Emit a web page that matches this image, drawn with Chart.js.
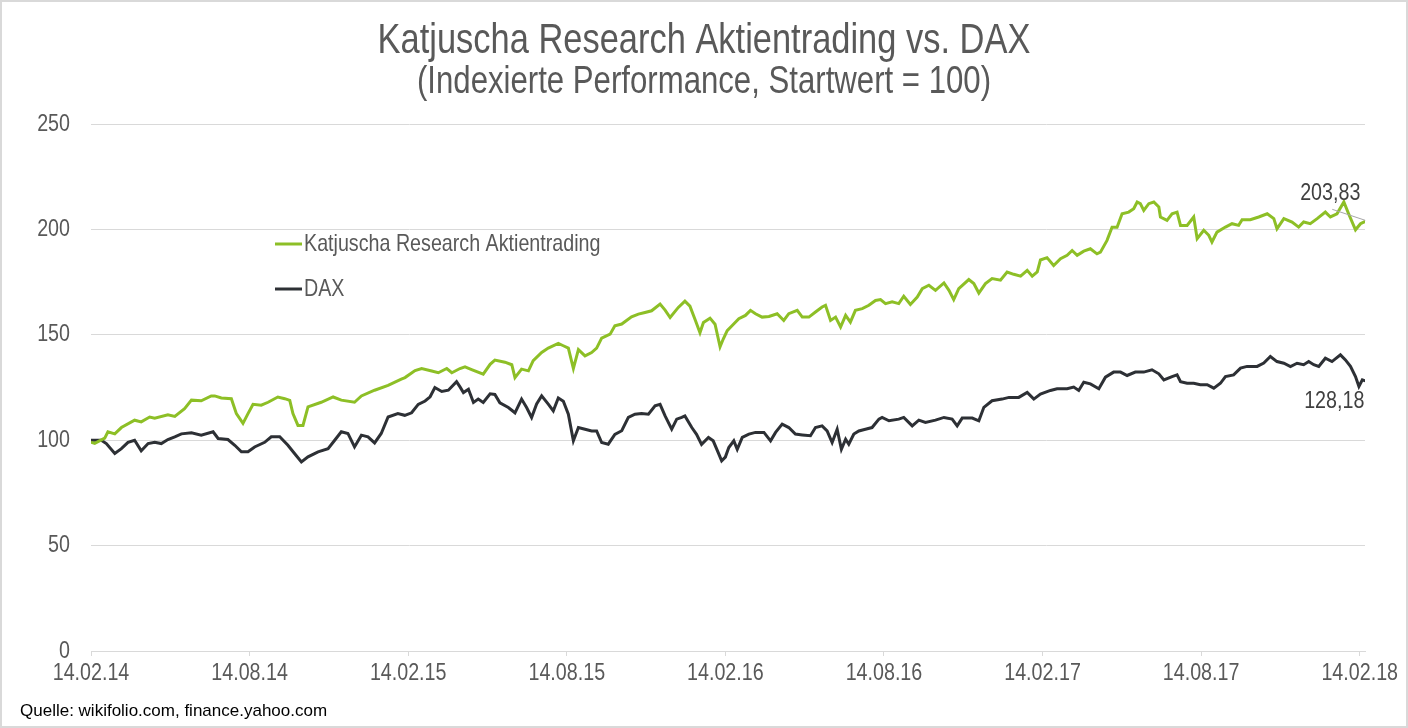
<!DOCTYPE html>
<html>
<head>
<meta charset="utf-8">
<script src="https://cdn.jsdelivr.net/npm/chart.js@4.4.1/dist/chart.umd.min.js"></script>
<style>
  html, body { margin: 0; padding: 0; background: #fff; }
  #wrap { position: relative; width: 1408px; height: 728px; }
</style>
</head>
<body>
<div id="wrap"><canvas id="perfChart" width="1408" height="728"></canvas></div>
<script>
// x = months since 14.02.14, y = indexed value (start = 100)
var dateTicks = ['14.02.14','14.08.14','14.02.15','14.08.15','14.02.16','14.08.16','14.02.17','14.08.17','14.02.18'];

var katjuscha = [[0,99],[0.14,98.5],[0.52,101],[0.64,104],[0.90,103],[1.15,106],[1.65,109.5],[1.90,108.7],[2.22,111],[2.41,110.4],
  [2.91,112],[3.17,111.3],[3.54,115],[3.80,119],[4.17,118.7],[4.55,121],[4.68,121],[4.93,120],[5.31,119.7],[5.50,112.6],
  [5.75,108],[5.94,112.6],[6.13,117],[6.44,116.6],[6.70,118],[7.07,120.5],[7.33,119.7],[7.52,118.9],[7.64,112.6],[7.83,107],
  [8.02,107],[8.21,115.8],[8.71,118],[9.16,120.5],[9.47,119],[9.97,118],[10.23,121],[10.73,123.7],[11.24,126],[11.74,129],
  [11.88,129.7],[12.26,133],[12.51,134],[12.89,132.8],[13.14,132],[13.46,134],[13.65,132],[13.96,134],[14.15,134.8],[14.40,133.5],
  [14.84,131.3],[15.10,136],[15.28,138],[15.66,137],[15.92,135.8],[16.04,129.7],[16.29,133.7],[16.55,132.9],[16.73,137.7],[17.05,141.6],
  [17.30,143.7],[17.68,145.9],[17.87,144.8],[18.06,143.7],[18.25,134],[18.44,143],[18.69,140],[18.94,141.6],[19.13,143.7],[19.32,148.4],
  [19.64,150.3],[19.82,154.3],[20.08,155.1],[20.45,158.5],[20.71,159.8],[20.96,160.6],[21.21,161.4],[21.53,164.6],[21.72,161.7],[21.91,158.2],
  [22.22,163],[22.47,166],[22.66,163.6],[22.85,157.4],[23.04,151],[23.17,155.8],[23.42,157.9],[23.61,155],[23.80,144.3],[23.92,148],
  [24.07,152],[24.26,154.4],[24.51,157.6],[24.76,159.2],[24.95,161.6],[25.14,160],[25.39,158.4],[25.65,158.7],[25.96,160],[26.21,156.8],
  [26.40,160],[26.72,161.6],[26.91,158.4],[27.16,158.4],[27.41,160.8],[27.66,163.2],[27.79,164],[27.98,156.8],[28.17,158.4],[28.36,153.7],
  [28.55,159.2],[28.73,156],[28.92,161.6],[29.18,162.4],[29.43,164],[29.68,166.3],[29.87,166.7],[30.06,164.8],[30.31,165.6],[30.56,164.8],
  [30.75,168.3],[31.00,164.4],[31.26,167.9],[31.45,171.9],[31.70,173.5],[31.95,171.1],[32.27,174.6],[32.46,171.1],[32.64,166.7],[32.83,171.9],
  [33.21,176.2],[33.40,174.3],[33.59,169.8],[33.84,174.3],[34.09,176.7],[34.41,175.9],[34.66,179.8],[34.91,178.7],[35.17,177.8],[35.42,180.6],
  [35.61,177.8],[35.80,179.8],[35.92,185.5],[36.17,186.6],[36.42,182.9],[36.68,186.1],[36.93,187.7],[37.12,190],[37.31,187.7],[37.56,189.7],
  [37.81,190.8],[38.06,188.4],[38.19,189.2],[38.44,194.8],[38.63,201],[38.82,201],[39.01,207.4],[39.26,208.2],[39.45,209.8],[39.58,213],
  [39.70,212.2],[39.83,209],[40.02,212.2],[40.21,213],[40.40,210.6],[40.46,205.9],[40.71,204.3],[40.90,207.4],[41.09,208.2],[41.22,201.9],
  [41.47,201.9],[41.72,205.9],[41.85,195.6],[42.10,199.6],[42.29,197.2],[42.41,194],[42.60,198.7],[42.92,201.1],[43.17,202.7],[43.42,201.9],
  [43.55,204.6],[43.86,204.6],[44.18,205.9],[44.50,207.4],[44.75,205.1],[44.87,200.3],[45.13,205.1],[45.44,203.5],[45.69,201.1],[45.88,203.5],
  [46.13,202.7],[46.39,205.1],[46.70,208.2],[46.89,205.9],[47.14,207.4],[47.40,213],[47.58,207.4],[47.84,199.8],[48.03,202.7],[48.21,203.83]];

var dax = [[0,100],[0.39,100],[0.58,98.4],[0.90,93.7],[1.15,96],[1.40,99],[1.65,100],[1.90,95],[2.16,98.4],[2.41,99],
  [2.66,98.4],[2.91,100.3],[3.17,101.6],[3.42,103],[3.80,103.5],[4.17,102.4],[4.62,104],[4.81,100.8],[5.18,100.3],[5.44,97.6],
  [5.69,94.5],[5.94,94.5],[6.19,96.8],[6.57,99],[6.82,101.6],[7.14,101.6],[7.45,97.6],[7.70,93.7],[7.96,89.7],[8.21,92.1],
  [8.59,94.5],[8.97,96],[9.22,100],[9.47,104],[9.72,103.2],[9.97,96.8],[10.23,102.4],[10.48,101.6],[10.73,98.7],[10.98,103.2],
  [11.24,111],[11.61,112.6],[11.87,111.8],[12.13,113],[12.38,117],[12.64,118.6],[12.83,120.6],[13.01,125],[13.27,123.1],[13.52,123.7],
  [13.83,127.8],[13.96,125.3],[14.09,122.6],[14.28,124.2],[14.47,117.9],[14.65,119.5],[14.84,117.9],[15.10,122],[15.28,121.7],[15.47,117.7],
  [15.79,115.5],[16.04,113],[16.29,119.5],[16.48,115.5],[16.67,110.8],[16.86,117.2],[17.05,121],[17.30,117.1],[17.49,113.9],[17.68,120],
  [17.87,118.5],[18.06,112.3],[18.25,99.7],[18.44,106],[18.69,105.2],[18.94,104.4],[19.13,104.4],[19.32,98.9],[19.57,98.1],[19.82,102.8],
  [20.08,104.5],[20.33,110.8],[20.58,112.3],[20.83,112.7],[21.09,112.3],[21.34,116.3],[21.53,117],[21.72,111.5],[21.97,105.2],[22.16,110],
  [22.35,110.8],[22.47,111.5],[22.73,106],[22.91,102.8],[23.10,98],[23.36,101.3],[23.54,99.7],[23.73,94.1],[23.86,90.2],[24.00,92],
  [24.13,96.5],[24.32,99.7],[24.45,95.7],[24.64,101.3],[24.89,102.9],[25.14,103.7],[25.46,103.7],[25.71,99.7],[25.90,103.7],[26.15,107.6],
  [26.40,106],[26.65,102.9],[26.91,102.5],[27.22,102.1],[27.41,106],[27.66,106.8],[27.85,104.4],[28.04,98.9],[28.23,105.2],[28.39,95.7],
  [28.55,100.5],[28.67,98.1],[28.86,102.9],[29.05,104.4],[29.30,105.2],[29.55,106],[29.81,110],[29.93,110.8],[30.19,109.2],[30.56,110],
  [30.75,110.8],[31.07,106.8],[31.32,109.5],[31.57,108.4],[31.95,109.5],[32.27,110.8],[32.58,110],[32.77,106.8],[32.96,110.5],[33.34,110.5],
  [33.59,109.2],[33.78,115.6],[34.09,118.7],[34.47,119.5],[34.73,120.3],[35.10,120.3],[35.42,122.7],[35.67,119.5],[35.92,121.9],[36.30,123.6],
  [36.55,124.4],[36.93,124.4],[37.18,125.2],[37.37,123.6],[37.56,127.5],[37.81,126.7],[38.13,124.4],[38.38,129.9],[38.69,132.3],[38.95,132.3],
  [39.20,130.7],[39.51,132.3],[39.83,132.3],[40.14,133.4],[40.40,131.5],[40.59,128.6],[40.90,130.2],[41.09,131],[41.22,127.8],[41.47,127],
  [41.72,127],[41.97,126.3],[42.23,126.3],[42.48,124.7],[42.73,127],[42.92,130.2],[43.23,131],[43.49,134.2],[43.74,135],[44.12,135],
  [44.37,136.6],[44.62,139.7],[44.87,137.3],[45.13,136.5],[45.38,134.9],[45.63,136.5],[45.88,135.8],[46.07,137.3],[46.26,135.8],[46.45,135],
  [46.70,138.9],[46.95,137.3],[47.27,140.5],[47.46,138.1],[47.65,135],[47.84,130.2],[47.97,125.5],[48.10,128.6],[48.21,128.18]];

var endLabels = ['203,83', '128,18'];

var textGrey = '#595959';

function toPoints(arr) {
  return arr.map(function (p) { return { x: p[0], y: p[1] }; });
}

// Arial Narrow is not installed: squeeze Liberation Sans horizontally instead
function narrowText(ctx, text, x, y, size, align, color) {
  ctx.save();
  ctx.translate(x, y);
  ctx.scale(0.82, 1);
  ctx.font = size + 'px "Liberation Sans", Arial, sans-serif';
  ctx.fillStyle = color;
  ctx.textAlign = align;
  ctx.textBaseline = 'middle';
  ctx.fillText(text, 0, 0);
  ctx.restore();
}

var extras = {
  id: 'extras',
  afterDraw: function (chart) {
    var ctx = chart.ctx;
    ctx.save();
    ctx.strokeStyle = '#d9d9d9';
    ctx.lineWidth = 2;
    ctx.strokeRect(1, 1, chart.width - 2, chart.height - 2);
    ctx.restore();

    narrowText(ctx, 'Katjuscha Research Aktientrading vs. DAX', 704, 41, 42, 'center', textGrey);
    narrowText(ctx, '(Indexierte Performance, Startwert = 100)', 704, 83, 38, 'center', textGrey);

    // axis labels from the library's scales
    var xs = chart.scales.x, ys = chart.scales.y;
    xs.ticks.forEach(function (t) {
      narrowText(ctx, dateTicks[Math.round(t.value / 6)], xs.getPixelForValue(t.value), 673, 24, 'center', textGrey);
    });
    ys.ticks.forEach(function (t) {
      narrowText(ctx, String(t.value), 70, ys.getPixelForValue(t.value), 24, 'right', textGrey);
    });

    // legend
    var legY = [244, 289];
    chart.data.datasets.forEach(function (ds, i) {
      ctx.save();
      ctx.strokeStyle = ds.borderColor;
      ctx.lineWidth = 3;
      ctx.beginPath();
      ctx.moveTo(275, legY[i]);
      ctx.lineTo(302, legY[i]);
      ctx.stroke();
      ctx.restore();
      narrowText(ctx, ds.label, 304, legY[i], 24, 'left', textGrey);
    });

    // end value labels
    var g = chart.getDatasetMeta(0).data;
    var d = chart.getDatasetMeta(1).data;
    var gl = g[g.length - 1], dl = d[d.length - 1];
    narrowText(ctx, endLabels[0], gl.x - 35, gl.y - 28, 24, 'center', '#404040');
    narrowText(ctx, endLabels[1], dl.x - 31, dl.y + 21, 24, 'center', '#404040');
    ctx.save();
    ctx.strokeStyle = '#a6a6a6';
    ctx.lineWidth = 1;
    ctx.beginPath();
    ctx.moveTo(gl.x - 33, gl.y - 12);
    ctx.lineTo(gl.x, gl.y - 1);
    ctx.stroke();

    ctx.font = '17px "Liberation Sans", Arial, sans-serif';
    ctx.fillStyle = '#000';
    ctx.textAlign = 'left';
    ctx.textBaseline = 'middle';
    ctx.fillText('Quelle: wikifolio.com, finance.yahoo.com', 20, 711);
    ctx.restore();
  }
};

var ctx = document.getElementById('perfChart').getContext('2d');
var perfChart = new Chart(ctx, {
  type: 'line',
  data: {
    datasets: [{
      label: 'Katjuscha Research Aktientrading',
      data: toPoints(katjuscha),
      borderColor: '#8dbf26',
      borderWidth: 3,
      pointRadius: 0,
      tension: 0
    }, {
      label: 'DAX',
      data: toPoints(dax),
      borderColor: '#2d3035',
      borderWidth: 3,
      pointRadius: 0,
      tension: 0
    }]
  },
  options: {
    responsive: false,
    animation: false,
    layout: { padding: { left: 0, right: 43, top: 124, bottom: 0 } },
    plugins: {
      legend: { display: false },
      tooltip: { enabled: false },
      title: { display: false }
    },
    scales: {
      x: {
        type: 'linear',
        min: 0,
        max: 48.2,
        afterFit: function (scale) { scale.height = 77; },
        border: { display: true, color: '#d9d9d9' },
        grid: { drawOnChartArea: false, drawTicks: true, tickLength: 5, color: '#d9d9d9' },
        ticks: { stepSize: 6, includeBounds: false, autoSkip: false, display: false }
      },
      y: {
        min: 0,
        max: 250,
        afterFit: function (scale) { scale.width = 91; },
        border: { display: false },
        grid: { color: '#d9d9d9', drawTicks: false },
        ticks: { stepSize: 50, display: false }
      }
    }
  },
  plugins: [extras]
});
</script>
</body>
</html>
